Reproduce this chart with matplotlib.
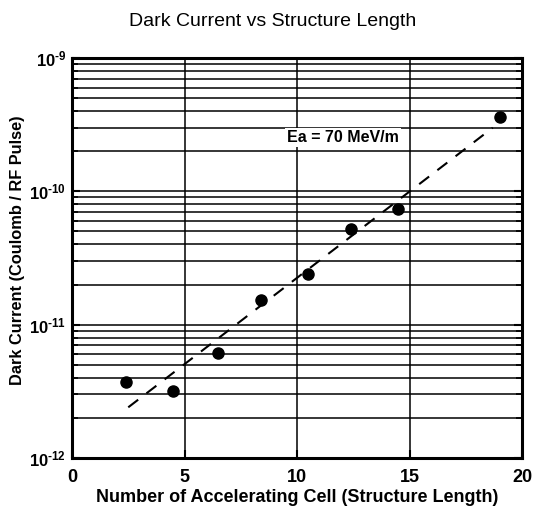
import matplotlib
matplotlib.use("Agg")
import matplotlib.pyplot as plt
from matplotlib.ticker import FixedLocator, FixedFormatter, LogLocator, NullFormatter
import numpy as np

plt.rcParams['font.family'] = ['Liberation Sans', 'DejaVu Sans']
plt.rcParams['font.weight'] = 'bold'
plt.rcParams['mathtext.fontset'] = 'custom'
plt.rcParams['mathtext.rm'] = 'Liberation Sans:bold'
plt.rcParams['mathtext.bf'] = 'Liberation Sans:bold'
plt.rcParams['mathtext.default'] = 'bf'

# Data
cells = [2.4, 4.5, 6.5, 8.4, 10.5, 12.4, 14.5, 19.0]
dark_current = [3.7e-12, 3.2e-12, 6.1e-12, 1.53e-11, 2.4e-11, 5.2e-11, 7.4e-11, 3.6e-10]
fit_x = [2.5, 18.7]
fit_y = [2.4e-12, 3.0e-10]

x_ticks = [0, 5, 10, 15, 20]
x_tick_labels = ['0', '5', '10', '15', '20']
y_ticks = [1e-12, 1e-11, 1e-10, 1e-9]
y_tick_labels = [r'$10^{\text{-12}}$', r'$10^{\text{-11}}$', r'$10^{\text{-10}}$', r'$10^{\text{-9}}$']

fig = plt.figure(figsize=(5.41, 5.13), dpi=100)
ax = fig.add_axes([72/541, 1 - 458/513, 450/541, 400/513])

ax.set_yscale('log')
ax.set_xlim(0, 20)
ax.set_ylim(1e-12, 1e-9)

ax.yaxis.set_major_locator(FixedLocator(y_ticks))
ax.yaxis.set_major_formatter(FixedFormatter(y_tick_labels))
ax.yaxis.set_minor_locator(LogLocator(base=10, subs=np.arange(2, 10)))
ax.yaxis.set_minor_formatter(NullFormatter())
ax.xaxis.set_major_locator(FixedLocator(x_ticks))
ax.xaxis.set_major_formatter(FixedFormatter(x_tick_labels))

ax.grid(True, which='major', axis='both', color='black', linewidth=1.1)
ax.grid(True, which='minor', axis='y', color='black', linewidth=1.1)

ax.tick_params(axis='x', which='major', direction='in', length=6, width=1.5,
               labelsize=13, top=False, pad=8)
ax.tick_params(axis='y', which='major', direction='in', length=6, width=1.5,
               labelsize=12, right=True, pad=4)
ax.tick_params(axis='y', which='minor', direction='in', length=4, width=1.2, right=True)
for s in ax.spines.values():
    s.set_linewidth(2.2)

ax.plot(fit_x, fit_y, color='black', linestyle=(0, (6, 5)), linewidth=1.5, zorder=3)
ax.plot(cells, dark_current, 'o', color='black', markersize=8, zorder=4)

ax.text(9.55, 2.55e-10, 'Ea = 70 MeV/m', fontsize=11.5, fontweight='bold', va='center', ha='left',
        bbox=dict(facecolor='white', edgecolor='none', pad=1.5), zorder=3)

ax.set_xlabel('Number of Accelerating Cell (Structure Length)', fontsize=13, fontweight='bold',
              va='center')
ax.xaxis.set_label_coords(0.5, -(498 - 458) / 400)
ax.set_ylabel('Dark Current (Coulomb / RF Pulse)', fontsize=11.8, fontweight='bold', va='center')
ax.yaxis.set_label_coords(-(72 - 18) / 450, (458 - 250) / 400)
fig.text(273/541, 1 - 22/513, 'Dark Current vs Structure Length', fontsize=14, fontweight='normal',
         ha='center', va='center')

fig.savefig('out.png', dpi=100)
